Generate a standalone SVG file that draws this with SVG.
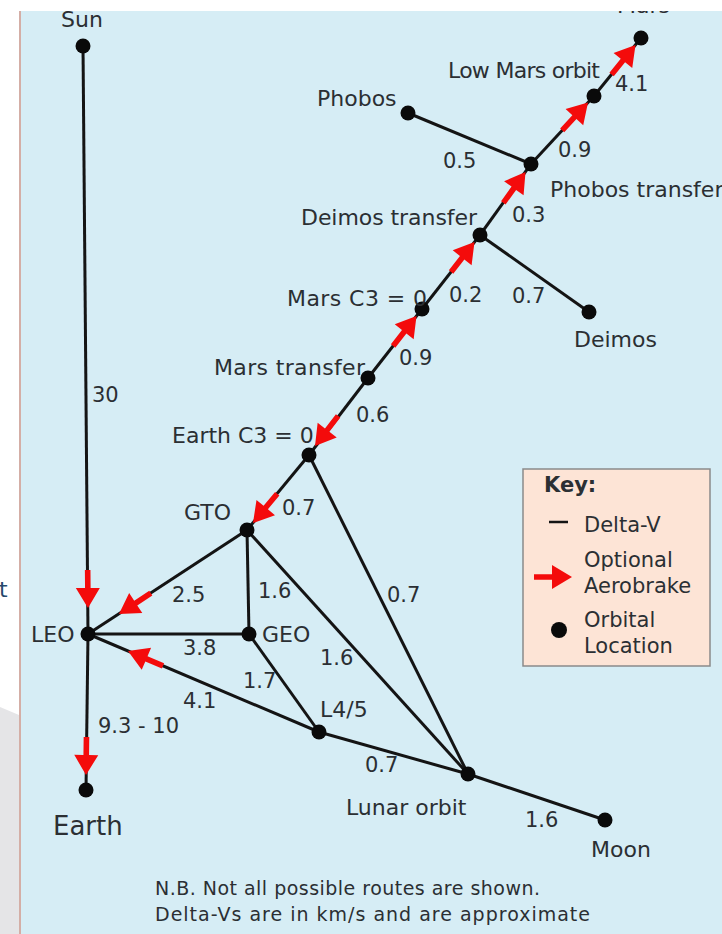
<svg xmlns="http://www.w3.org/2000/svg" width="722" height="934" viewBox="0 0 722 934">
<style>
text{font-family:"DejaVu Sans","Liberation Sans",sans-serif;fill:#2b2f33;font-size:22px}
.num{font-size:21px}
.k{font-size:21px}
.e{stroke:#141414;stroke-width:3;fill:none}
.n{fill:#0a0a0a}
.big{font-size:26px}
.nb{font-size:19px}
</style>
<defs>
<path id="arr" d="M-38,-2.8 H-20 V-12 L0,0 L-20,12 V2.8 H-38 Z" fill="#f40b0b"/>
</defs>
<rect x="0" y="0" width="722" height="934" fill="#ffffff"/>
<polygon points="0,707 19,715 19,934 0,934" fill="#e5e5e7"/>
<text x="-1" y="597" style="fill:#26496c;font-size:22px">t</text>
<rect x="20" y="11" width="702" height="923" fill="#d6edf5"/>
<line x1="20" y1="11" x2="20" y2="934" stroke="#d4aea6" stroke-width="2"/>

<g id="connectors">
<line class="e" x1="83" y1="46" x2="88" y2="634"/>
<line class="e" x1="88" y1="634" x2="86" y2="790"/>
<line class="e" x1="88" y1="634" x2="247" y2="530"/>
<line class="e" x1="88" y1="634" x2="249" y2="634"/>
<line class="e" x1="88" y1="634" x2="319" y2="732"/>
<line class="e" x1="247" y1="530" x2="249" y2="634"/>
<line class="e" x1="247" y1="530" x2="468" y2="774"/>
<line class="e" x1="249" y1="634" x2="319" y2="732"/>
<line class="e" x1="319" y1="732" x2="468" y2="774"/>
<line class="e" x1="309" y1="455" x2="247" y2="530"/>
<line class="e" x1="309" y1="455" x2="468" y2="774"/>
<line class="e" x1="468" y1="774" x2="605" y2="820"/>
<line class="e" x1="368" y1="378" x2="309" y2="455"/>
<line class="e" x1="368" y1="378" x2="422" y2="309"/>
<line class="e" x1="422" y1="309" x2="480" y2="235"/>
<line class="e" x1="480" y1="235" x2="589" y2="312"/>
<line class="e" x1="480" y1="235" x2="531" y2="164"/>
<line class="e" x1="531" y1="164" x2="408" y2="113"/>
<line class="e" x1="531" y1="164" x2="594" y2="96"/>
<line class="e" x1="594" y1="96" x2="641" y2="38"/>
<use href="#arr" transform="translate(88,608) rotate(89.5)"/>
<use href="#arr" transform="translate(86,775) rotate(90.7)"/>
<use href="#arr" transform="translate(119,614) rotate(146.8)"/>
<use href="#arr" transform="translate(128,651) rotate(-157)"/>
<use href="#arr" transform="translate(253,523) rotate(129.6)"/>
<use href="#arr" transform="translate(315,446) rotate(127.5)"/>
<use href="#arr" transform="translate(416.5,316) rotate(-52)"/>
<use href="#arr" transform="translate(474.5,242) rotate(-51.9)"/>
<use href="#arr" transform="translate(525.5,172) rotate(-54.3)"/>
<use href="#arr" transform="translate(588,102.5) rotate(-47.2)"/>
<use href="#arr" transform="translate(635.5,45) rotate(-51)"/>
<text class="num" x="92" y="402">30</text>
<text class="num" x="98" y="733">9.3 - 10</text>
<text class="num" x="172" y="602">2.5</text>
<text class="num" x="183" y="655">3.8</text>
<text class="num" x="183" y="708">4.1</text>
<text class="num" x="258" y="598">1.6</text>
<text class="num" x="243" y="688">1.7</text>
<text class="num" x="320" y="665">1.6</text>
<text class="num" x="282" y="515">0.7</text>
<text class="num" x="387" y="602">0.7</text>
<text class="num" x="365" y="772">0.7</text>
<text class="num" x="525" y="827">1.6</text>
<text class="num" x="356" y="422">0.6</text>
<text class="num" x="399" y="365">0.9</text>
<text class="num" x="449" y="302">0.2</text>
<text class="num" x="512" y="303">0.7</text>
<text class="num" x="512" y="222">0.3</text>
<text class="num" x="443" y="168">0.5</text>
<text class="num" x="558" y="157">0.9</text>
<text class="num" x="615" y="91">4.1</text>
</g>

<g id="sun"><circle class="n" cx="83" cy="46" r="7.5"/><text x="61" y="27">Sun</text></g>
<g id="leo"><circle class="n" cx="88" cy="634" r="7.5"/><text x="31" y="642">LEO</text></g>
<g id="earth"><circle class="n" cx="86" cy="790" r="7.5"/><text class="big" x="53" y="835">Earth</text></g>
<g id="gto"><circle class="n" cx="247" cy="530" r="7.5"/><text x="184" y="520">GTO</text></g>
<g id="geo"><circle class="n" cx="249" cy="634" r="7.5"/><text x="262" y="642">GEO</text></g>
<g id="l45"><circle class="n" cx="319" cy="732" r="7.5"/><text x="320" y="717">L4/5</text></g>
<g id="lunar-orbit"><circle class="n" cx="468" cy="774" r="7.5"/><text x="346" y="815">Lunar orbit</text></g>
<g id="moon"><circle class="n" cx="605" cy="820" r="7.5"/><text x="591" y="857">Moon</text></g>
<g id="earth-c3"><circle class="n" cx="309" cy="455" r="7.5"/><text x="172" y="443">Earth C3 = 0</text></g>
<g id="mars-transfer"><circle class="n" cx="368" cy="378" r="7.5"/><text x="214" y="375" textLength="151">Mars transfer</text></g>
<g id="mars-c3"><circle class="n" cx="422" cy="309" r="7.5"/><text x="287" y="306" textLength="140">Mars C3 = 0</text></g>
<g id="deimos-transfer"><circle class="n" cx="480" cy="235" r="7.5"/><text x="301" y="225" textLength="176">Deimos transfer</text></g>
<g id="deimos"><circle class="n" cx="589" cy="312" r="7.5"/><text x="574" y="347">Deimos</text></g>
<g id="phobos-transfer"><circle class="n" cx="531" cy="164" r="7.5"/><text x="550" y="197">Phobos transfer</text></g>
<g id="phobos"><circle class="n" cx="408" cy="113" r="7.5"/><text x="317" y="106">Phobos</text></g>
<g id="low-mars-orbit"><circle class="n" cx="594" cy="96" r="7.5"/><text x="448" y="78" textLength="152">Low Mars orbit</text></g>
<g id="mars"><circle class="n" cx="641" cy="38" r="7.5"/><text x="617" y="13">Mars</text></g>

<g id="key">
<rect x="523" y="469" width="187" height="197" fill="#fde4d6" stroke="#8a8a8a" stroke-width="1.5"/>
<text class="k" x="544" y="492" style="font-weight:bold">Key:</text>
<line x1="549" y1="522" x2="568" y2="522" stroke="#141414" stroke-width="2.5"/>
<text class="k" x="584" y="532">Delta-V</text>
<use href="#arr" transform="translate(572,577)"/>
<text class="k" x="584" y="567">Optional</text>
<text class="k" x="584" y="593">Aerobrake</text>
<circle class="n" cx="559" cy="630" r="8"/>
<text class="k" x="584" y="627">Orbital</text>
<text class="k" x="584" y="653">Location</text>
</g>

<text class="nb" x="155" y="895" textLength="385">N.B. Not all possible routes are shown.</text>
<text class="nb" x="155" y="921" textLength="435">Delta-Vs are in km/s and are approximate</text>
<rect x="0" y="0" width="722" height="11" fill="#ffffff"/>
</svg>
